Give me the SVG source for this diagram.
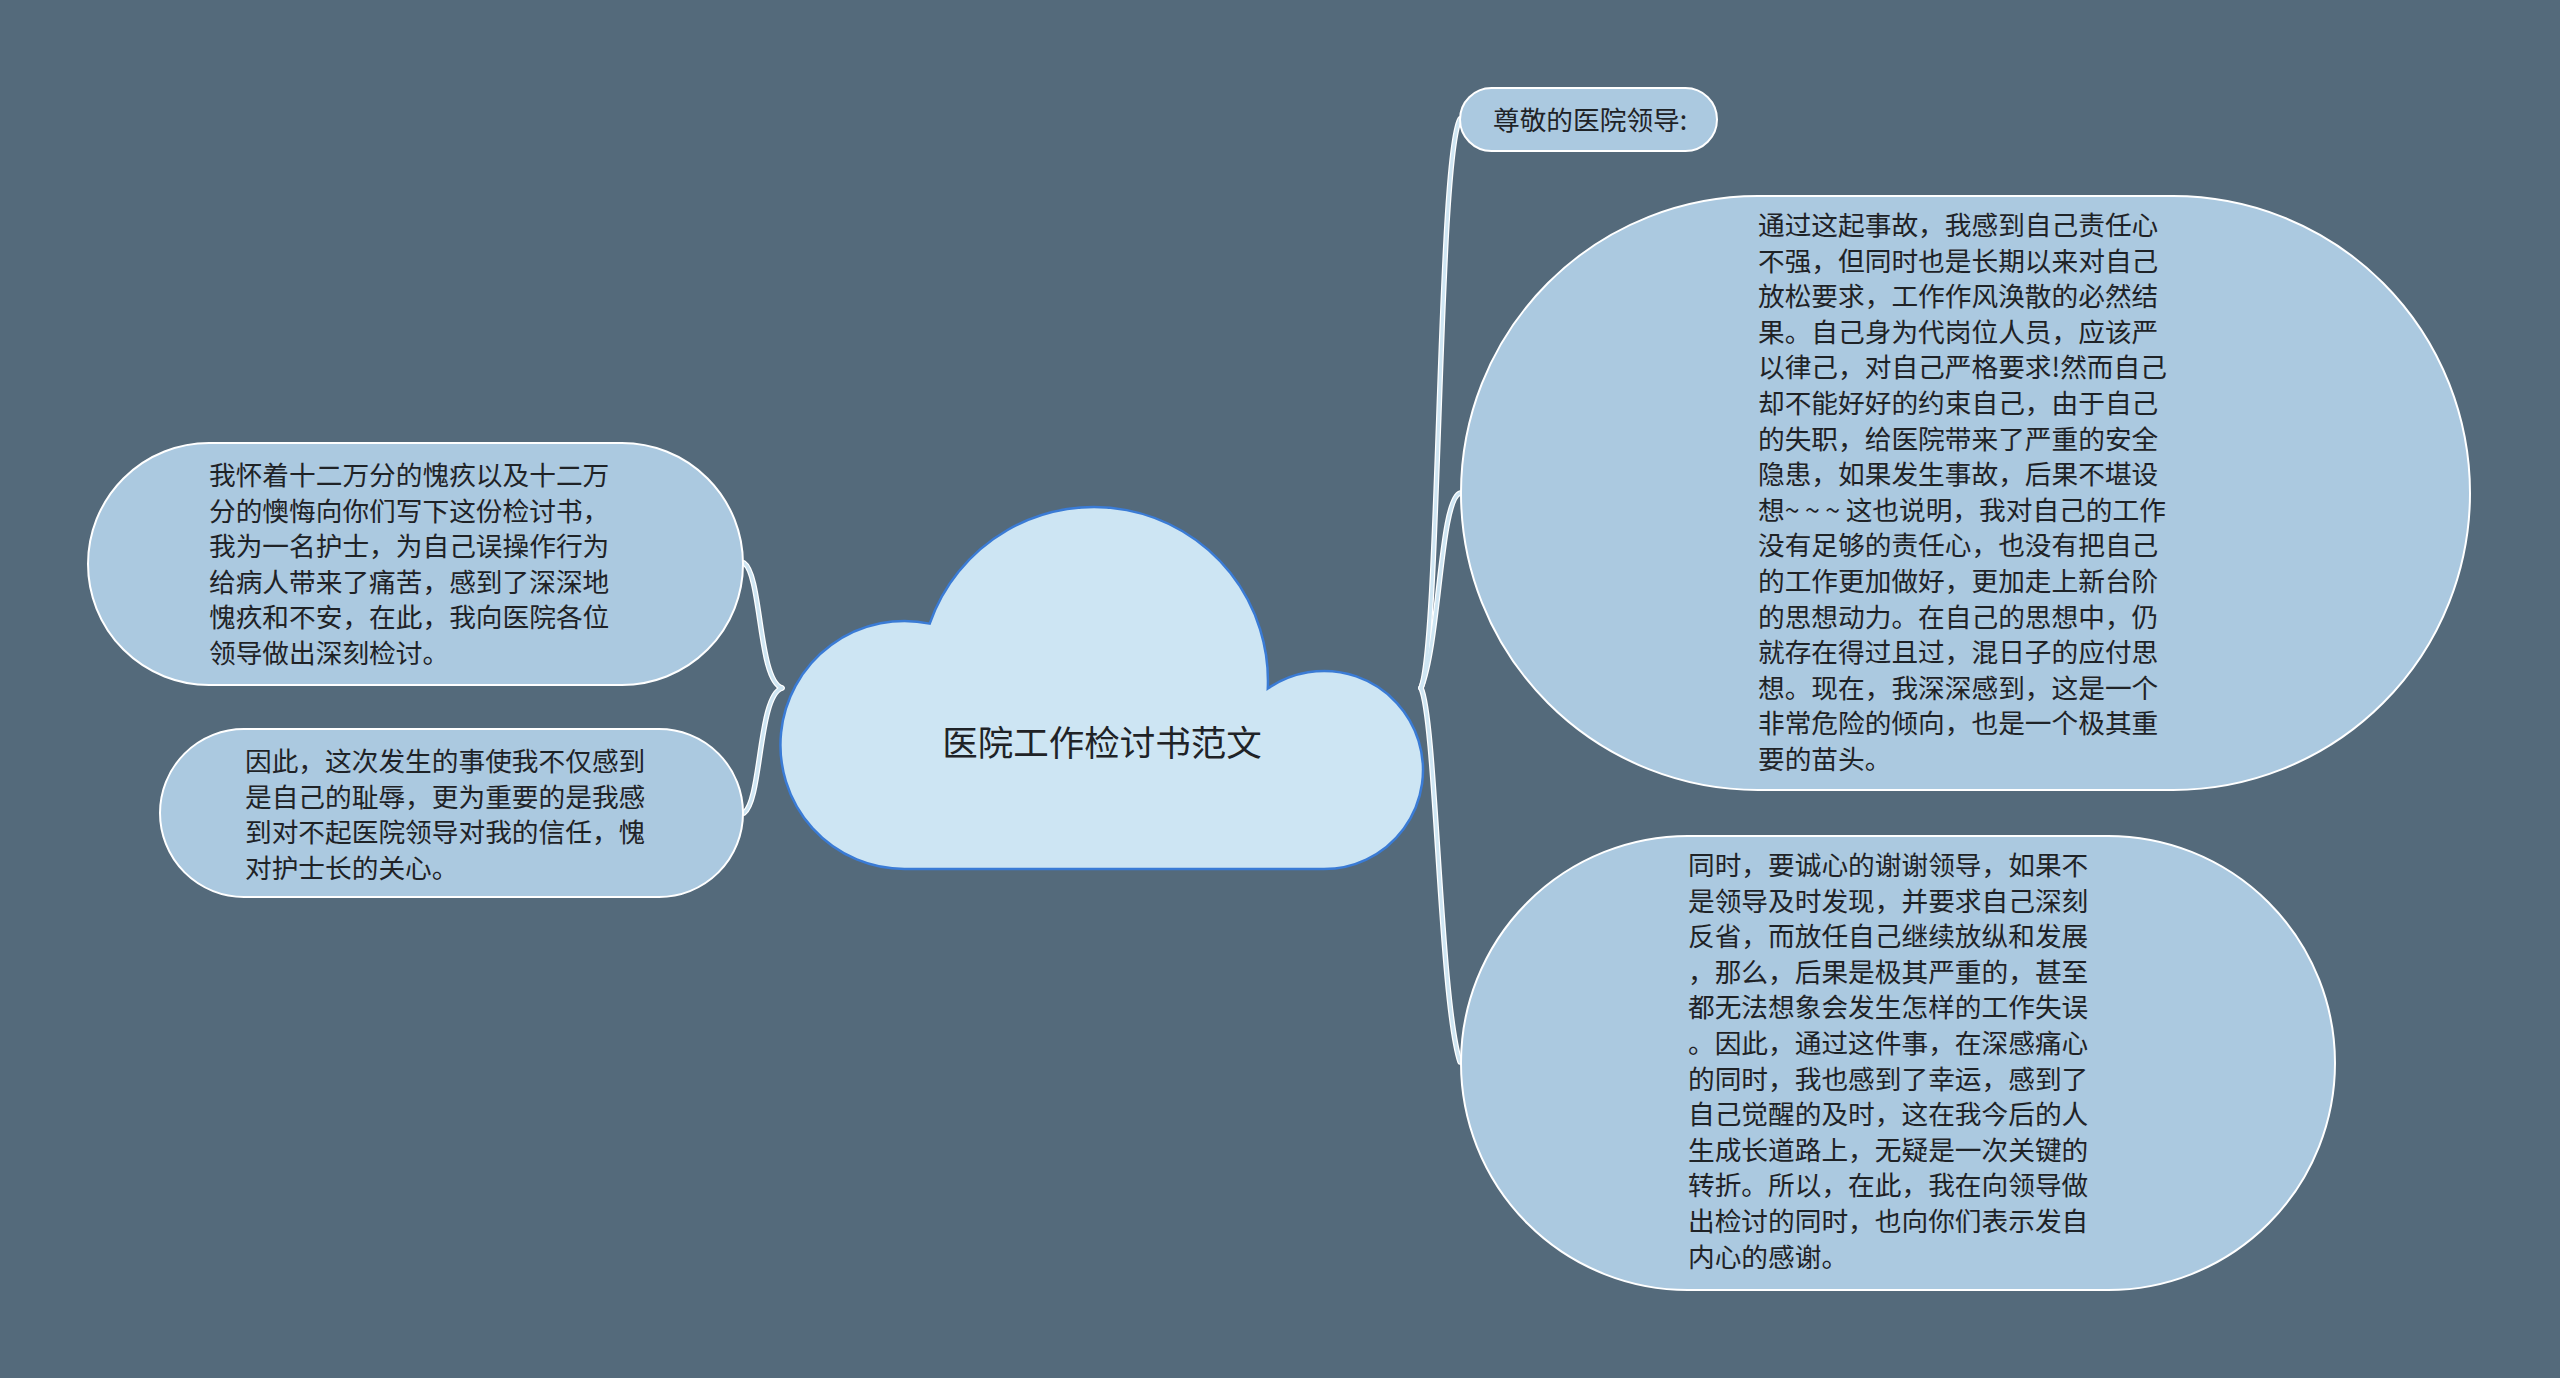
<svg xmlns="http://www.w3.org/2000/svg" width="2560" height="1378" viewBox="0 0 2560 1378">
<style>
.bg{fill:#546a7b}
.node{fill:#abc9e0;stroke:#ffffff;stroke-width:2}
.cloud{fill:#cde5f3;stroke:#3a7bd5;stroke-width:2.5}
.t{font-family:"Noto Sans CJK SC","Noto Sans",sans-serif;font-size:26.7px;fill:#1f2327}
.tc{font-family:"Noto Sans CJK SC","Noto Sans",sans-serif;font-size:35.5px;fill:#1f2327}
.edge-o{fill:none;stroke:#ffffff;stroke-width:5.5;stroke-linecap:round}
.edge-i{fill:none;stroke:#cfe6f3;stroke-width:3;stroke-linecap:round}
</style>
<rect class="bg" x="0" y="0" width="2560" height="1378"/>
<g id="connectors">
<path class="edge-o" d="M782,688 C758,680 762,575 744,563"/>
<path class="edge-o" d="M782,688 C758,696 762,800 744,813"/>
<path class="edge-o" d="M1421,688 C1440,640 1438,160 1460,119"/>
<path class="edge-o" d="M1421,688 C1440,640 1440,500 1460,493"/>
<path class="edge-o" d="M1421,688 C1436,720 1440,1000 1460,1062"/>
<path class="edge-i" d="M782,688 C758,680 762,575 744,563"/>
<path class="edge-i" d="M782,688 C758,696 762,800 744,813"/>
<path class="edge-i" d="M1421,688 C1440,640 1438,160 1460,119"/>
<path class="edge-i" d="M1421,688 C1440,640 1440,500 1460,493"/>
<path class="edge-i" d="M1421,688 C1436,720 1440,1000 1460,1062"/>
</g>
<g id="root">
<path class="cloud" d="M905,869 A124,124 0 1 1 929.7,623.6 A174,174 0 0 1 1267.8,688.5 A99,99 0 1 1 1324,869 Z"/>
<text class="tc" x="1102" y="756" text-anchor="middle">医院工作检讨书范文</text>
</g>
<g id="node-l1">
<rect class="node" x="88" y="443" width="655" height="242" rx="121" ry="121"/>
<text class="t" x="209" y="485"><tspan x="209" dy="0">我怀着十二万分的愧疚以及十二万</tspan><tspan x="209" dy="35.6">分的懊悔向你们写下这份检讨书，</tspan><tspan x="209" dy="35.6">我为一名护士，为自己误操作行为</tspan><tspan x="209" dy="35.6">给病人带来了痛苦，感到了深深地</tspan><tspan x="209" dy="35.6">愧疚和不安，在此，我向医院各位</tspan><tspan x="209" dy="35.6">领导做出深刻检讨。</tspan></text>
</g>
<g id="node-l2">
<rect class="node" x="160" y="729" width="583" height="168" rx="84" ry="84"/>
<text class="t" x="245" y="771"><tspan x="245" dy="0">因此，这次发生的事使我不仅感到</tspan><tspan x="245" dy="35.6">是自己的耻辱，更为重要的是我感</tspan><tspan x="245" dy="35.6">到对不起医院领导对我的信任，愧</tspan><tspan x="245" dy="35.6">对护士长的关心。</tspan></text>
</g>
<g id="node-r1">
<rect class="node" x="1460" y="88" width="257" height="63" rx="31.5" ry="31.5"/>
<text class="t" x="1493" y="130">尊敬的医院领导:</text>
</g>
<g id="node-r2">
<rect class="node" x="1461" y="196" width="1009" height="594" rx="297" ry="297"/>
<text class="t" x="1758" y="235"><tspan x="1758" dy="0">通过这起事故，我感到自己责任心</tspan><tspan x="1758" dy="35.6">不强，但同时也是长期以来对自己</tspan><tspan x="1758" dy="35.6">放松要求，工作作风涣散的必然结</tspan><tspan x="1758" dy="35.6">果。自己身为代岗位人员，应该严</tspan><tspan x="1758" dy="35.6">以律己，对自己严格要求!然而自己</tspan><tspan x="1758" dy="35.6">却不能好好的约束自己，由于自己</tspan><tspan x="1758" dy="35.6">的失职，给医院带来了严重的安全</tspan><tspan x="1758" dy="35.6">隐患，如果发生事故，后果不堪设</tspan><tspan x="1758" dy="35.6">想<tspan letter-spacing="5.5">~~~</tspan>这也说明，我对自己的工作</tspan><tspan x="1758" dy="35.6">没有足够的责任心，也没有把自己</tspan><tspan x="1758" dy="35.6">的工作更加做好，更加走上新台阶</tspan><tspan x="1758" dy="35.6">的思想动力。在自己的思想中，仍</tspan><tspan x="1758" dy="35.6">就存在得过且过，混日子的应付思</tspan><tspan x="1758" dy="35.6">想。现在，我深深感到，这是一个</tspan><tspan x="1758" dy="35.6">非常危险的倾向，也是一个极其重</tspan><tspan x="1758" dy="35.6">要的苗头。</tspan></text>
</g>
<g id="node-r3">
<rect class="node" x="1461" y="836" width="874" height="454" rx="227" ry="227"/>
<text class="t" x="1688" y="875"><tspan x="1688" dy="0">同时，要诚心的谢谢领导，如果不</tspan><tspan x="1688" dy="35.6">是领导及时发现，并要求自己深刻</tspan><tspan x="1688" dy="35.6">反省，而放任自己继续放纵和发展</tspan><tspan x="1688" dy="35.6">，那么，后果是极其严重的，甚至</tspan><tspan x="1688" dy="35.6">都无法想象会发生怎样的工作失误</tspan><tspan x="1688" dy="35.6">。因此，通过这件事，在深感痛心</tspan><tspan x="1688" dy="35.6">的同时，我也感到了幸运，感到了</tspan><tspan x="1688" dy="35.6">自己觉醒的及时，这在我今后的人</tspan><tspan x="1688" dy="35.6">生成长道路上，无疑是一次关键的</tspan><tspan x="1688" dy="35.6">转折。所以，在此，我在向领导做</tspan><tspan x="1688" dy="35.6">出检讨的同时，也向你们表示发自</tspan><tspan x="1688" dy="35.6">内心的感谢。</tspan></text>
</g>
</svg>
